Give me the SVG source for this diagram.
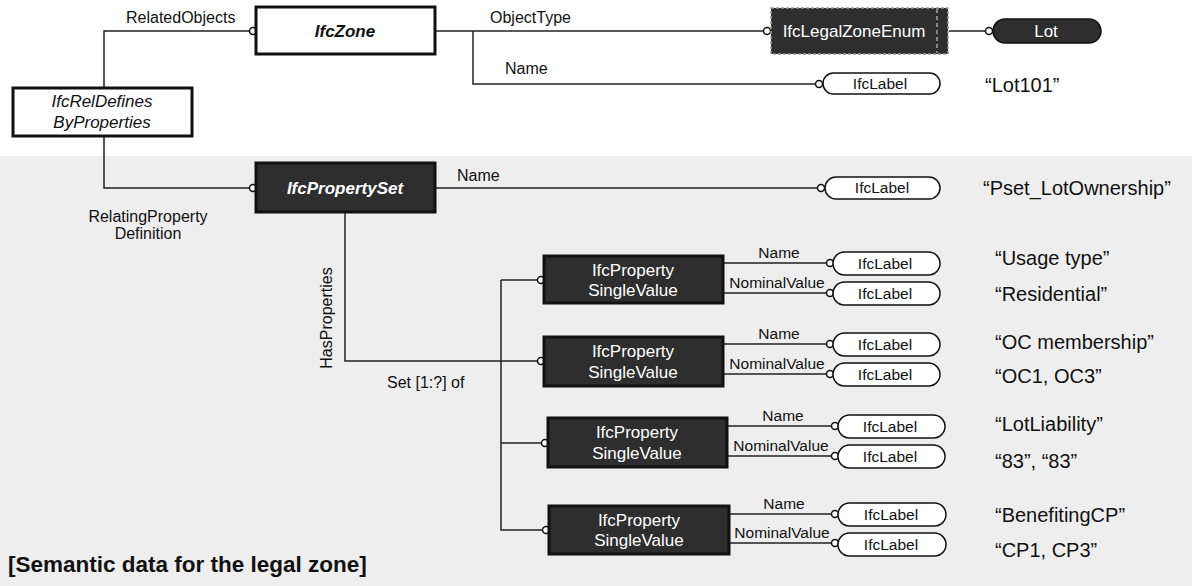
<svg xmlns="http://www.w3.org/2000/svg" width="1192" height="586" viewBox="0 0 1192 586">
<style>
.lbl{font-family:"Liberation Sans",Arial,sans-serif;font-size:16px;fill:#111}
.val{font-family:"Liberation Sans",Arial,sans-serif;font-size:20px;fill:#111}
.nt{font-family:"Liberation Sans",Arial,sans-serif;font-size:17px;fill:#fff;text-anchor:middle}
.ntb{font-family:"Liberation Sans",Arial,sans-serif;font-size:17px;fill:#111;text-anchor:middle}
.pl{font-size:15.5px}
.wbox{fill:#fff;stroke:#111;stroke-width:3}
.dbox{fill:#2e2e2e;stroke:#111;stroke-width:3}
.pill{fill:#fff;stroke:#111;stroke-width:1.5}
.con{fill:none;stroke:#222;stroke-width:1.5}
.c{fill:#fff;stroke:#111;stroke-width:1.5}
</style>
<rect x="0" y="156" width="1192" height="430" fill="#eeeeee"/>
<g id="connectors">
<path class="con" d="M104,88 V31 H253"/>
<path class="con" d="M435,31 H767"/>
<path class="con" d="M473,31 V84 H819"/>
<path class="con" d="M949,31 H989"/>
<path class="con" d="M104,136 V188 H253"/>
<path class="con" d="M435,188 H821"/>
<path class="con" d="M345,212 V361 H540"/>
<path class="con" d="M501,280 H540 M501,280 V530 H545 M501,443 H544"/>
<path class="con" d="M723,263 H829 M723,293 H829"/>
<path class="con" d="M723,344 H829 M723,374 H829"/>
<path class="con" d="M727,426 H834 M727,456 H834"/>
<path class="con" d="M729,514 H834 M729,543 H834"/>
<circle class="c" cx="253" cy="31" r="3.5"/>
<circle class="c" cx="767" cy="31" r="3.5"/>
<circle class="c" cx="819" cy="84" r="3.5"/>
<circle class="c" cx="989" cy="31" r="3.5"/>
<circle class="c" cx="253" cy="188" r="3.5"/>
<circle class="c" cx="821" cy="188" r="3.5"/>
<circle class="c" cx="541" cy="280" r="3.5"/>
<circle class="c" cx="541" cy="361" r="3.5"/>
<circle class="c" cx="545" cy="443" r="3.5"/>
<circle class="c" cx="546" cy="530" r="3.5"/>
<circle class="c" cx="830" cy="263" r="3.5"/>
<circle class="c" cx="830" cy="293" r="3.5"/>
<circle class="c" cx="830" cy="344" r="3.5"/>
<circle class="c" cx="830" cy="374" r="3.5"/>
<circle class="c" cx="835" cy="426" r="3.5"/>
<circle class="c" cx="835" cy="456" r="3.5"/>
<circle class="c" cx="835" cy="514" r="3.5"/>
<circle class="c" cx="835" cy="543" r="3.5"/>
<text class="lbl" x="126" y="23">RelatedObjects</text>
<text class="lbl" x="490" y="23">ObjectType</text>
<text class="lbl" x="505" y="74">Name</text>
<text class="lbl" x="457" y="181">Name</text>
<text class="lbl" x="148" y="222" text-anchor="middle">RelatingProperty</text>
<text class="lbl" x="148" y="239" text-anchor="middle">Definition</text>
<text class="lbl" transform="translate(332,318) rotate(-90)" text-anchor="middle">HasProperties</text>
<text class="lbl" x="387" y="388">Set [1:?] of</text>
<text class="ntb pl" x="779" y="258">Name</text>
<text class="ntb pl" x="777" y="288">NominalValue</text>
<text class="ntb pl" x="779" y="339">Name</text>
<text class="ntb pl" x="777" y="369">NominalValue</text>
<text class="ntb pl" x="783" y="421">Name</text>
<text class="ntb pl" x="781" y="451">NominalValue</text>
<text class="ntb pl" x="784" y="509">Name</text>
<text class="ntb pl" x="782" y="538">NominalValue</text>
</g>
<g id="IfcZone">
<rect class="wbox" x="256" y="7" width="179" height="47"/>
<text class="ntb" x="345" y="37" font-weight="bold" font-style="italic" font-size="17">IfcZone</text>
</g>
<g id="IfcRelDefinesByProperties">
<rect class="wbox" x="13" y="88" width="179" height="48"/>
<text class="ntb" x="102" y="107" font-style="italic" font-size="18">IfcRelDefines</text>
<text class="ntb" x="102" y="128" font-style="italic" font-size="18">ByProperties</text>
</g>
<g id="IfcLegalZoneEnum">
<rect x="771" y="8" width="177" height="46" fill="#2e2e2e" stroke="#999" stroke-width="1.5" stroke-dasharray="3,2"/>
<line x1="937" y1="9" x2="937" y2="53" stroke="#ddd" stroke-width="1" stroke-dasharray="4,3"/>
<text class="nt" x="854" y="37" font-size="15.5">IfcLegalZoneEnum</text>
</g>
<g id="Lot">
<rect x="993" y="19" width="108" height="24" rx="12" fill="#2e2e2e" stroke="#111" stroke-width="1.5"/>
<text class="nt" x="1046" y="37" font-size="15.5">Lot</text>
</g>
<g id="IfcLabel-zone">
<rect class="pill" x="823" y="73" width="117" height="21" rx="10.5"/>
<text class="ntb pl" x="880" y="89">IfcLabel</text>
</g>
<text class="val" x="985" y="92">“Lot101”</text>
<g id="IfcPropertySet">
<rect class="dbox" x="256" y="163" width="179" height="49"/>
<text class="nt" x="345" y="194" font-weight="bold" font-style="italic" font-size="18">IfcPropertySet</text>
</g>
<g id="IfcLabel-pset">
<rect class="pill" x="825" y="177" width="115" height="22" rx="11"/>
<text class="ntb pl" x="882" y="193">IfcLabel</text>
</g>
<text class="val" x="983" y="195">“Pset_LotOwnership”</text>
<g id="PSV1">
<rect class="dbox" x="544" y="256" width="179" height="47"/>
<text class="nt" x="633" y="276">IfcProperty</text>
<text class="nt" x="633" y="296">SingleValue</text>
</g>
<g id="PSV1-Name"><rect class="pill" x="833" y="252" width="107" height="23" rx="11.5"/><text class="ntb pl" x="885" y="269">IfcLabel</text></g>
<g id="PSV1-Value"><rect class="pill" x="833" y="282" width="107" height="23" rx="11.5"/><text class="ntb pl" x="885" y="299">IfcLabel</text></g>
<g id="PSV2">
<rect class="dbox" x="544" y="337" width="179" height="49"/>
<text class="nt" x="633" y="357">IfcProperty</text>
<text class="nt" x="633" y="378">SingleValue</text>
</g>
<g id="PSV2-Name"><rect class="pill" x="833" y="333" width="107" height="23" rx="11.5"/><text class="ntb pl" x="885" y="350">IfcLabel</text></g>
<g id="PSV2-Value"><rect class="pill" x="833" y="363" width="107" height="23" rx="11.5"/><text class="ntb pl" x="885" y="380">IfcLabel</text></g>
<g id="PSV3">
<rect class="dbox" x="548" y="418" width="179" height="49"/>
<text class="nt" x="637" y="438">IfcProperty</text>
<text class="nt" x="637" y="459">SingleValue</text>
</g>
<g id="PSV3-Name"><rect class="pill" x="838" y="415" width="107" height="23" rx="11.5"/><text class="ntb pl" x="890" y="432">IfcLabel</text></g>
<g id="PSV3-Value"><rect class="pill" x="838" y="445" width="107" height="23" rx="11.5"/><text class="ntb pl" x="890" y="462">IfcLabel</text></g>
<g id="PSV4">
<rect class="dbox" x="549" y="506" width="180" height="48"/>
<text class="nt" x="639" y="526">IfcProperty</text>
<text class="nt" x="639" y="546">SingleValue</text>
</g>
<g id="PSV4-Name"><rect class="pill" x="838" y="503" width="108" height="23" rx="11.5"/><text class="ntb pl" x="891" y="520">IfcLabel</text></g>
<g id="PSV4-Value"><rect class="pill" x="838" y="533" width="108" height="23" rx="11.5"/><text class="ntb pl" x="891" y="550">IfcLabel</text></g>
<g id="values">
<text class="val" x="995" y="265">“Usage type”</text>
<text class="val" x="995" y="301">“Residential”</text>
<text class="val" x="995" y="349">“OC membership”</text>
<text class="val" x="995" y="383">“OC1, OC3”</text>
<text class="val" x="995" y="431">“LotLiability”</text>
<text class="val" x="995" y="468">“83”, “83”</text>
<text class="val" x="995" y="522">“BenefitingCP”</text>
<text class="val" x="995" y="557">“CP1, CP3”</text>
</g>
<text x="8" y="572" font-family="Liberation Sans,Arial,sans-serif" font-size="22.5" font-weight="bold" fill="#111">[Semantic data for the legal zone]</text>
</svg>
